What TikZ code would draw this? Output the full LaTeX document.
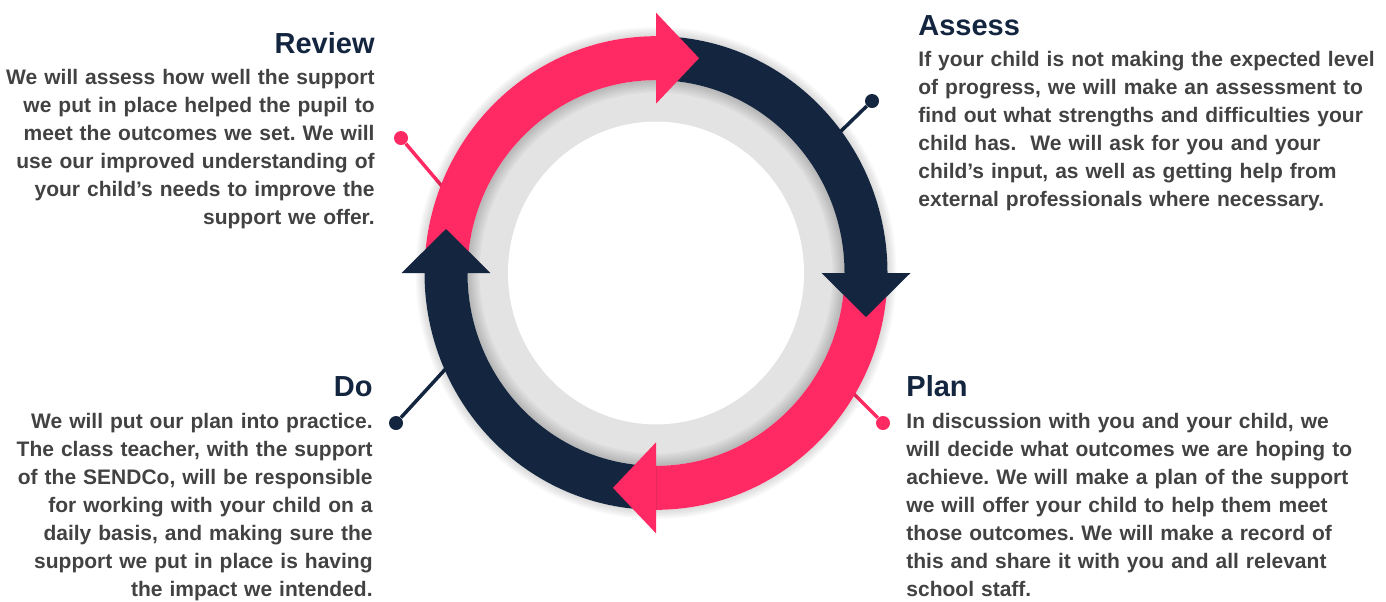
\documentclass[tikz,border=0pt]{standalone}
\usepackage{fontspec}
\setmainfont{Liberation Sans}
\definecolor{sendpink}{HTML}{FF2A64}
\definecolor{sendnavy}{HTML}{13253F}
\definecolor{sendgrey}{HTML}{E3E3E3}
\definecolor{sendtext}{HTML}{424242}
\frenchspacing

\begin{document}
\begin{tikzpicture}[x=0.5pt,y=0.5pt,
  heading/.style={font=\fontsize{14.5}{16}\selectfont\bfseries, text=sendnavy, inner sep=0pt},
  bodytext/.style={font=\fontsize{10.5}{14}\selectfont\bfseries, text=sendtext, inner sep=0pt, text width=240pt},
  pindot/.style={circle, fill=#1, inner sep=0pt, minimum size=7pt},
  pinline/.style={draw=#1, line width=1.75pt}]
  \useasboundingbox (0,0) rectangle (1386,-601);

  % pins
  \node[pindot=sendpink] (revdot) at (401,-138) {};
  \coordinate (revend) at (446,-191);
  \draw[pinline=sendpink] (revdot) -- (revend);
  \node[pindot=sendnavy] (assdot) at (872,-101) {};
  \coordinate (assend) at (838,-134);
  \draw[pinline=sendnavy] (assdot) -- (assend);
  \node[pindot=sendpink] (plandot) at (883,-423) {};
  \coordinate (planend) at (845,-385);
  \draw[pinline=sendpink] (plandot) -- (planend);
  \node[pindot=sendnavy] (dodot) at (396,-423) {};
  \coordinate (doend) at (451,-363);
  \draw[pinline=sendnavy] (dodot) -- (doend);

  % ring
  \begin{scope}[shift={(656,-273)}, yscale=1.023]
    \foreach \s in {1,...,6}
      \fill[black, opacity=0.025, even odd rule] (0,0) circle[radius=231.5+1.5*\s] circle[radius=231.5];
    \fill[sendgrey] (0,0) circle[radius=190];
    \foreach \s in {1,...,6}
      \fill[black, opacity=0.03, even odd rule] (0,0) circle[radius=188.5] circle[radius=188.5-2*\s];
    \fill[white] (0,0) circle[radius=148];
    % bodies
    \fill[sendpink] (180:231.5) arc[start angle=180, end angle=90, radius=231.5]
      -- (90:188.5) arc[start angle=90, end angle=180, radius=188.5] -- cycle;
    \fill[sendnavy] (90:231.5) arc[start angle=90, end angle=0, radius=231.5]
      -- (0:188.5) arc[start angle=0, end angle=90, radius=188.5] -- cycle;
    \fill[sendpink] (0:231.5) arc[start angle=0, end angle=-90, radius=231.5]
      -- (-90:188.5) arc[start angle=-90, end angle=0, radius=188.5] -- cycle;
    \fill[sendnavy] (-90:231.5) arc[start angle=-90, end angle=-180, radius=231.5]
      -- (-180:188.5) arc[start angle=-180, end angle=-90, radius=188.5] -- cycle;
    % heads
    \fill[sendpink] (0,254.5) -- (43,210) -- (0,165.5) -- cycle;
    \fill[sendnavy] (254.5,0) -- (210,-43) -- (165.5,0) -- cycle;
    \fill[sendpink] (0,-254.5) -- (-43,-210) -- (0,-165.5) -- cycle;
    \fill[sendnavy] (-254.5,0) -- (-210,43) -- (-165.5,0) -- cycle;
  \end{scope}

  % texts
  \node[heading, anchor=base east] (review) at (375,-53) {Review};
  \node[bodytext, align=right, anchor=base east] (reviewtext) at (375,-84.5)
    {We will assess how well the support\\ we put in place helped the pupil to\\ meet the outcomes we set. We will\\ use our improved understanding of\\ your child’s needs to improve the\\ support we offer.};
  \node[heading, anchor=base west] (assess) at (918,-35) {Assess};
  \node[bodytext, align=left, anchor=base west] (assesstext) at (918,-66)
    {If your child is not making the expected level\\ of progress, we will make an assessment to\\ find out what strengths and difficulties your\\ child has.\ \ We will ask for you and your\\ child’s input, as well as getting help from\\ external professionals where necessary.};
  \node[heading, anchor=base east] (do) at (373,-396) {Do};
  \node[bodytext, align=right, anchor=base east] (dotext) at (373,-428)
    {We will put our plan into practice.\\ The class teacher, with the support\\ of the SENDCo, will be responsible\\ for working with your child on a\\ daily basis, and making sure the\\ support we put in place is having\\ the impact we intended.};
  \node[heading, anchor=base west] (plan) at (906,-396) {Plan};
  \node[bodytext, align=left, anchor=base west] (plantext) at (906,-428)
    {In discussion with you and your child, we\\ will decide what outcomes we are hoping to\\ achieve. We will make a plan of the support\\ we will offer your child to help them meet\\ those outcomes. We will make a record of\\ this and share it with you and all relevant\\ school staff.};
\end{tikzpicture}
\end{document}
